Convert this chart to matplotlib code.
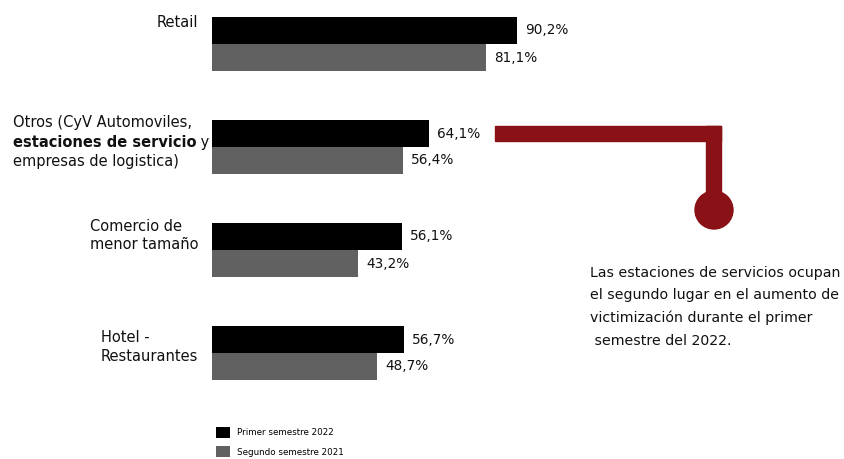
import matplotlib
matplotlib.use('Agg')
import matplotlib.pyplot as plt
import matplotlib.transforms as mtransforms
from matplotlib.patches import Rectangle, Circle

categories = ['Retail',
              'Otros (CyV Automoviles,\nestaciones de servicio y\nempresas de logistica)',
              'Comercio de\nmenor tamaño',
              'Hotel -\nRestaurantes']
series_names = ['Primer semestre 2022', 'Segundo semestre 2021']
primer_2022 = [90.2, 64.1, 56.1, 56.7]
segundo_2021 = [81.1, 56.4, 43.2, 48.7]
value_labels_2022 = ['90,2%', '64,1%', '56,1%', '56,7%']
value_labels_2021 = ['81,1%', '56,4%', '43,2%', '48,7%']
annotation = ('Las estaciones de servicios ocupan\n'
              'el segundo lugar en el aumento de\n'
              'victimización durante el primer\n'
              ' semestre del 2022.')

BLACK = '#000000'
GRAY = '#616161'
RED = '#8A1116'
TXT = '#111111'
FONT = 'DejaVu Sans'
plt.rcParams['font.family'] = [FONT]

W, H = 844, 459
fig = plt.figure(figsize=(W / 100, H / 100), dpi=100)
ax = fig.add_axes([0, 0, 1, 1])
ax.axis('off')

PX_PER_UNIT = 3.38
X0 = 212
ax.set_xlim(-X0 / PX_PER_UNIT, (W - X0) / PX_PER_UNIT)
ROW = 103.0
Y0 = 44.0
ax.set_ylim((H - Y0) / ROW, -Y0 / ROW)

pos = list(range(len(categories)))
h = 27 / ROW
b1 = ax.barh([p - h / 2 for p in pos], primer_2022, height=h, color=BLACK, label=series_names[0])
b2 = ax.barh([p + h / 2 for p in pos], segundo_2021, height=h, color=GRAY, label=series_names[1])

ax.bar_label(b1, labels=value_labels_2022, padding=6, fontsize=9.8, color=TXT)
ax.bar_label(b2, labels=value_labels_2021, padding=6, fontsize=9.8, color=TXT)

# pixel transform (origin top-left)
px = mtransforms.Affine2D().scale(1, -1).translate(0, H)
lab_tr = mtransforms.blended_transform_factory(mtransforms.IdentityTransform(), ax.transData)

LAB_FS = 10.5
RIGHT = 198
# Retail
ax.text(RIGHT, pos[0] - 0.21, categories[0], transform=lab_tr, ha='right', va='center',
        fontsize=LAB_FS, color=TXT)
# Otros (mixed bold)
lines = categories[1].split('\n')
LEFT_OTROS = 13
ax.text(LEFT_OTROS, pos[1] - 0.235, lines[0], transform=lab_tr, ha='left', va='center',
        fontsize=LAB_FS, color=TXT)
bold_part = 'estaciones de servicio'
tb = ax.text(LEFT_OTROS, pos[1] - 0.04, bold_part, transform=lab_tr, ha='left', va='center',
             fontsize=LAB_FS, fontweight='bold', color=TXT)
ax.text(LEFT_OTROS, pos[1] + 0.145, lines[2], transform=lab_tr, ha='left', va='center',
        fontsize=LAB_FS, color=TXT)
fig.canvas.draw()
bb = tb.get_window_extent(fig.canvas.get_renderer())
ax.text(bb.x1, pos[1] - 0.04, lines[1][len(bold_part):], transform=lab_tr, ha='left', va='center',
        fontsize=LAB_FS, color=TXT)
# Comercio, Hotel
ax.text(RIGHT, pos[2] - 0.14, categories[2], transform=lab_tr, ha='right', va='center',
        fontsize=LAB_FS, color=TXT, multialignment='left', linespacing=1.3)
ax.text(RIGHT, pos[3] - 0.06, categories[3], transform=lab_tr, ha='right', va='center',
        fontsize=LAB_FS, color=TXT, multialignment='left', linespacing=1.3)

# connector shape
fig.patches.append(Rectangle((495, 126), 226, 15, transform=px, color=RED))
fig.patches.append(Rectangle((706, 126), 15, 70, transform=px, color=RED))
fig.patches.append(Circle((714, 210), 19, transform=px, color=RED))

fig.text(590, 266, annotation, transform=px, ha='left', va='top', fontsize=10.2,
         color=TXT, linespacing=1.75)

leg = ax.legend(handles=[b1, b2], labels=series_names, loc='upper left',
                bbox_to_anchor=(216, 427), bbox_transform=px, frameon=False,
                fontsize=6.3, handlelength=1.6, handleheight=1.6, handletextpad=0.75,
                labelspacing=0.9, borderpad=0, borderaxespad=0)

fig.savefig('out.png', dpi=100, facecolor='white')
